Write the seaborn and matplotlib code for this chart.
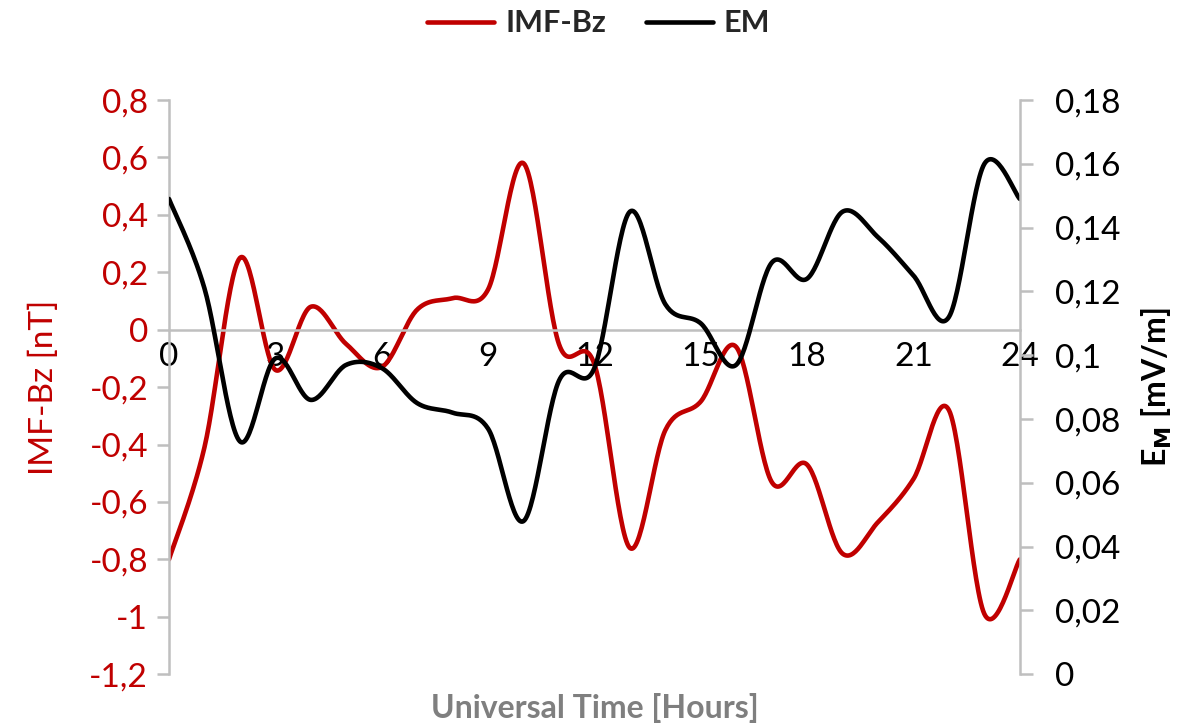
import numpy as np
import pandas as pd
import matplotlib
matplotlib.use('Agg')
import matplotlib.pyplot as plt
from matplotlib.lines import Line2D
import seaborn as sns

# hourly values
hours = list(range(25))
imf_bz = [-0.80, -0.41, 0.25, -0.14, 0.08, -0.05, -0.13, 0.07, 0.11, 0.14, 0.58, -0.05,
          -0.12, -0.76, -0.35, -0.25, -0.06, -0.53, -0.47, -0.78, -0.67, -0.52, -0.28, -0.99, -0.80]
em = [0.149, 0.121, 0.073, 0.099, 0.086, 0.097, 0.096, 0.085, 0.082, 0.077, 0.048, 0.092,
      0.096, 0.145, 0.116, 0.110, 0.097, 0.129, 0.124, 0.145, 0.137, 0.125, 0.112, 0.160, 0.149]
x_ticks = [0, 3, 6, 9, 12, 15, 18, 21, 24]
left_ticks = [0.8, 0.6, 0.4, 0.2, 0, -0.2, -0.4, -0.6, -0.8, -1, -1.2]
right_ticks = [0, 0.02, 0.04, 0.06, 0.08, 0.1, 0.12, 0.14, 0.16, 0.18]

RED = '#C00000'
GRAY = '#BFBFBF'


def smooth(x, y, n=30):
    # Excel style smoothed line: cubic bezier through each point (tension 1/6)
    x = np.asarray(x, float)
    y = np.asarray(y, float)
    px = np.concatenate([[x[0]], x, [x[-1]]])
    py = np.concatenate([[y[0]], y, [y[-1]]])
    xs, ys = [], []
    t = np.linspace(0, 1, n, endpoint=False)
    for i in range(len(x) - 1):
        p0 = np.array([px[i + 1], py[i + 1]])
        p3 = np.array([px[i + 2], py[i + 2]])
        c1 = p0 + (p3 - np.array([px[i], py[i]])) / 6
        c2 = p3 - (np.array([px[i + 3], py[i + 3]]) - p0) / 6
        pts = ((1 - t) ** 3)[:, None] * p0 + (3 * (1 - t) ** 2 * t)[:, None] * c1 \
            + (3 * (1 - t) * t ** 2)[:, None] * c2 + (t ** 3)[:, None] * p3
        xs.extend(pts[:, 0])
        ys.extend(pts[:, 1])
    xs.append(x[-1])
    ys.append(y[-1])
    return np.array(xs), np.array(ys)


def fmt(v):
    return '{:g}'.format(round(v, 3)).replace('.', ',')


sns.set_style('white')
plt.rcParams['font.family'] = ['Lato', 'DejaVu Sans']

fig = plt.figure(figsize=(11.9, 7.25), dpi=100)
ax = fig.add_axes([0.142, 0.070, 0.715, 0.792])
ax2 = ax.twinx()

bx, by = smooth(hours, imf_bz)
ex, ey = smooth(hours, em)
df_bz = pd.DataFrame({'hour': bx, 'val': by})
df_em = pd.DataFrame({'hour': ex, 'val': ey})

sns.lineplot(data=df_bz, x='hour', y='val', ax=ax, color=RED, linewidth=3.3,
             sort=False, estimator=None)
sns.lineplot(data=df_em, x='hour', y='val', ax=ax2, color='black', linewidth=3.3,
             sort=False, estimator=None)

ax.set_xlim(0, 24)
ax.set_ylim(-1.2, 0.8)
ax2.set_ylim(0, 0.18)

ax.set_xticks(x_ticks)
ax.set_xticklabels([str(v) for v in x_ticks])
ax.set_yticks(left_ticks)
ax.set_yticklabels([fmt(v) for v in left_ticks])
ax2.set_yticks(right_ticks)
ax2.set_yticklabels([fmt(v) for v in right_ticks])

for a in (ax, ax2):
    for s in a.spines.values():
        s.set_color(GRAY)
        s.set_linewidth(1.8)
    a.spines['top'].set_visible(False)
ax.spines['right'].set_visible(False)
ax2.spines['left'].set_visible(False)
ax2.spines['bottom'].set_visible(False)
ax.spines['bottom'].set_position(('data', 0))

ax.tick_params(axis='x', direction='inout', length=18, width=1.8, color=GRAY,
               labelsize=24, labelcolor='black', pad=0)
ax.tick_params(axis='y', direction='out', length=9, width=1.8, color=GRAY,
               labelsize=24, labelcolor=RED, pad=6)
ax2.tick_params(axis='y', direction='out', length=9, width=1.8, color=GRAY,
                labelsize=24, labelcolor='black', pad=16)

ax.set_xlabel('')
ax.set_ylabel('IMF-Bz [nT]', color=RED, fontsize=24, labelpad=22)
ax2.set_ylabel(r'E$_\mathbf{M}$ [mV/m]', color='black', fontsize=23, fontweight='bold', labelpad=14)
fig.text(0.5, 0.024, 'Universal Time [Hours]', ha='center', va='center',
         fontsize=23, fontweight='bold', color='#7F7F7F')

handles = [Line2D([], [], color=RED, linewidth=3.3), Line2D([], [], color='black', linewidth=3.3)]
leg = fig.legend(handles, ['IMF-Bz', 'EM'], loc='center', bbox_to_anchor=(0.503, 0.968),
                 ncol=2, frameon=False, handlelength=2.2, handletextpad=0.35,
                 columnspacing=1.3, prop={'size': 22, 'weight': 'bold'})

fig.savefig('out.png', dpi=100)
